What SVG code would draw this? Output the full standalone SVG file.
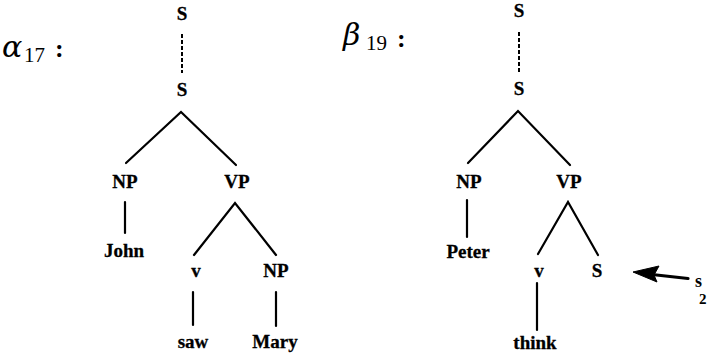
<svg xmlns="http://www.w3.org/2000/svg" width="708" height="356" viewBox="0 0 708 356">
<style>
.lbl{font-family:"Liberation Serif","Times New Roman",serif;font-weight:bold;font-size:19px;fill:#000;stroke:#000;stroke-width:0.3;text-anchor:middle}
.greek{font-family:"DejaVu Serif",serif;font-style:italic;font-size:30px;fill:#000}
.sub{font-family:"Liberation Serif",serif;font-size:21px;fill:#000}
.col{font-family:"Liberation Serif",serif;font-weight:bold;font-size:26px;fill:#000}
.edge{stroke:#000;stroke-width:2.2;fill:none;stroke-linecap:round}
.dash{stroke:#000;stroke-width:2;fill:none;stroke-dasharray:4 2}
</style>
<rect width="708" height="356" fill="#fff"/>
<g id="names">
<text x="2" y="57" class="greek">α</text><text x="24" y="62" class="sub">17</text><text x="55" y="57" class="col">:</text>
<text x="343" y="45" class="greek">β</text><text x="366" y="50" class="sub">19</text><text x="397" y="47" class="col">:</text>
</g>
<g id="connectors">
<line class="dash" x1="182" y1="34" x2="182" y2="73"/>
<polyline class="edge" points="126,163 181,112 236,165"/>
<line class="edge" x1="125" y1="202" x2="125" y2="233"/>
<polyline class="edge" points="194,255 235,203 276,255"/>
<line class="edge" x1="193" y1="292" x2="193" y2="325"/>
<line class="edge" x1="276" y1="292" x2="276" y2="326"/>
<line class="dash" x1="519" y1="32" x2="519" y2="73"/>
<polyline class="edge" points="468,163 518,111 570,165"/>
<line class="edge" x1="467" y1="200" x2="467" y2="237"/>
<polyline class="edge" points="538,254 568,202 598,255"/>
<line class="edge" x1="537" y1="283" x2="537" y2="330"/>
<path d="M652,274.5 L688,278.5" stroke="#000" stroke-width="3.2" fill="none" stroke-linecap="round"/>
<path d="M633,272 L659,266 L654,275 L657,282 Z" fill="#000" stroke="#000" stroke-width="1" stroke-linejoin="round"/>
</g>
<g id="a_S0"><text x="182" y="20" class="lbl">S</text></g>
<g id="a_S1"><text x="182" y="96" class="lbl">S</text></g>
<g id="a_NP"><text x="125" y="188" class="lbl">NP</text></g>
<g id="a_VP"><text x="237" y="188" class="lbl">VP</text></g>
<g id="a_John"><text x="124" y="257" class="lbl">John</text></g>
<g id="a_v"><text x="196" y="277" class="lbl">v</text></g>
<g id="a_NP2"><text x="276" y="277" class="lbl">NP</text></g>
<g id="a_saw"><text x="193" y="348" class="lbl">saw</text></g>
<g id="a_Mary"><text x="275" y="348" class="lbl">Mary</text></g>
<g id="b_S0"><text x="519" y="17" class="lbl">S</text></g>
<g id="b_S1"><text x="519" y="95" class="lbl">S</text></g>
<g id="b_NP"><text x="469" y="188" class="lbl">NP</text></g>
<g id="b_VP"><text x="569" y="188" class="lbl">VP</text></g>
<g id="b_Peter"><text x="468" y="258" class="lbl">Peter</text></g>
<g id="b_v"><text x="539" y="277" class="lbl">v</text></g>
<g id="b_S"><text x="597" y="277" class="lbl">S</text></g>
<g id="b_think"><text x="535" y="349" class="lbl">think</text></g>
<g id="s2"><text x="695" y="287" font-family="Liberation Serif, serif" font-weight="bold" font-size="18" fill="#000">s</text><text x="699" y="304" font-family="Liberation Serif, serif" font-weight="bold" font-size="15" fill="#000">2</text></g>
</svg>
